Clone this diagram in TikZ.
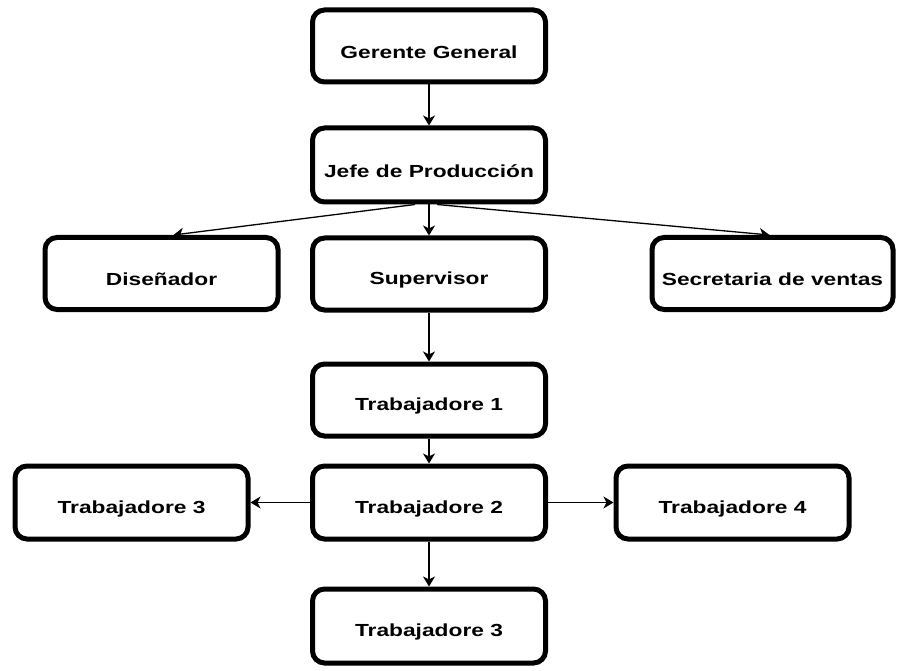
\documentclass[tikz,border=0pt]{standalone}
\usepackage{fontspec}
\usetikzlibrary{arrows.meta}
\newfontfamily\orgfont[FakeStretch=1.3]{Liberation Sans}
\begin{document}
\begin{tikzpicture}[x=1pt,y=-1pt,
  box/.style={draw=black, line width=5pt, rounded corners=12pt, fill=white,
    minimum width=#1, minimum height=72pt, inner sep=0pt},
  box/.default=233pt,
  lbl/.style={font=\orgfont\bfseries\fontsize{17.5}{20}\selectfont, inner sep=0pt},
  link/.style={draw=black, line width=1.3pt,
    -{Stealth[length=10pt,width=12pt,inset=3pt]}}]
  \useasboundingbox (0,0) rectangle (897,671);
  % boxes
  \node[box] (gg) at (429,46) {};
  \node[box, minimum height=74pt] (jp) at (429,165) {};
  \node[box] (dis) at (161.5,273.5) {};
  \node[box] (sup) at (429,274) {};
  \node[box=241pt] (sec) at (772.5,273.5) {};
  \node[box] (t1) at (429,400) {};
  \node[box, minimum height=73pt] (t2) at (429,502.5) {};
  \node[box, minimum height=73pt] (t3a) at (131.5,502.5) {};
  \node[box, minimum height=73pt] (t4) at (732.5,502.5) {};
  \node[box, minimum height=74pt] (t3b) at (429,626) {};
  % texts, set slightly below the box centres
  \node[lbl] at ([yshift=-6pt]gg.center) {Gerente General};
  \node[lbl] at ([yshift=-6pt]jp.center) {Jefe de Producción};
  \node[lbl] at ([yshift=-6pt]dis.center) {Diseñador};
  \node[lbl] at ([yshift=-6pt]sup.center) {Supervisor};
  \node[lbl] at ([yshift=-6pt]sec.center) {Secretaria de ventas};
  \node[lbl] at ([yshift=-6pt]t1.center) {Trabajadore 1};
  \node[lbl] at ([yshift=-6pt]t2.center) {Trabajadore 2};
  \node[lbl] at ([yshift=-6pt]t3a.center) {Trabajadore 3};
  \node[lbl] at ([yshift=-6pt]t4.center) {Trabajadore 4};
  \node[lbl] at ([yshift=-6pt]t3b.center) {Trabajadore 3};
  % connectors
  \draw[link] (gg.south) -- (jp.north);
  \draw[link] ([xshift=-14pt]jp.south) -- ([xshift=12pt]dis.north);
  \draw[link] (jp.south) -- (sup.north);
  \draw[link] ([xshift=8pt]jp.south) -- ([xshift=-3pt]sec.north);
  \draw[link] (sup.south) -- (t1.north);
  \draw[link] (t1.south) -- (t2.north);
  \draw[link] (t2.west) -- (t3a.east);
  \draw[link] (t2.east) -- (t4.west);
  \draw[link] (t2.south) -- (t3b.north);
\end{tikzpicture}
\end{document}
